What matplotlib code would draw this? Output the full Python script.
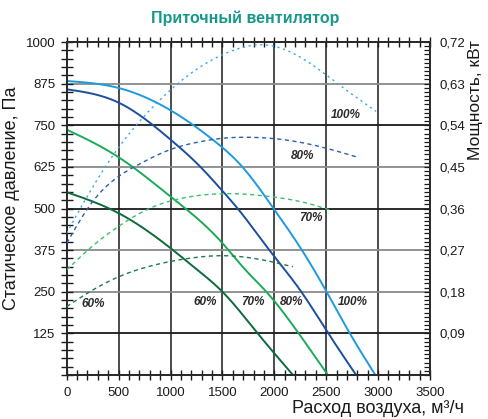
import matplotlib
matplotlib.use("Agg")
import matplotlib.pyplot as plt
import numpy as np
from matplotlib.ticker import MultipleLocator, FixedLocator

plt.rcParams['font.family'] = ['Liberation Sans', 'DejaVu Sans']

# ---- Data: static pressure curves (Pa) vs air flow (m3/h) ----
p100_x = [0, 500, 1000, 1410, 1698, 1993, 2260, 2500, 2724, 2974]
p100_y = [883, 862, 795, 706, 623, 500, 378, 252, 127, 0]

p80_x = [0, 500, 1000, 1282, 1500, 1647, 1960, 2260, 2500, 2788]
p80_y = [858, 818, 707, 627, 553, 500, 372, 250, 135, 0]

p70_x = [0, 500, 1000, 1500, 1715, 1923, 2228, 2516]
p70_y = [737, 654, 536, 396, 318, 250, 128, 0]

p60_x = [0, 500, 1000, 1250, 1500, 1840, 2180]
p60_y = [549, 486, 381, 318, 250, 125, 0]

# ---- Data: power curves (kW) vs air flow ----
w100_x = [0, 144, 416, 849, 1265, 1618, 1891, 2275, 2628, 2981]
w100_y = [0.307, 0.365, 0.465, 0.584, 0.663, 0.703, 0.714, 0.684, 0.627, 0.570]

w80_x = [0, 240, 700, 993, 1298, 1506, 1750, 2115, 2436, 2785]
w80_y = [0.285, 0.372, 0.456, 0.487, 0.505, 0.512, 0.514, 0.508, 0.494, 0.472]

w70_x = [0, 208, 497, 817, 1106, 1500, 1987, 2308, 2532]
w70_y = [0.227, 0.271, 0.321, 0.362, 0.382, 0.392, 0.385, 0.372, 0.357]

w60_x = [0, 208, 497, 849, 1170, 1490, 1859, 2179]
w60_y = [0.148, 0.178, 0.212, 0.238, 0.252, 0.258, 0.250, 0.234]

x_ticks = [0, 500, 1000, 1500, 2000, 2500, 3000, 3500]
y_ticks = [125, 250, 375, 500, 625, 750, 875, 1000]
y2_ticks = [0.09, 0.18, 0.27, 0.36, 0.45, 0.54, 0.63, 0.72]
y2_labels = ['0,09', '0,18', '0,27', '0,36', '0,45', '0,54', '0,63', '0,72']

c100 = '#1e9ae0'
c80 = '#1a4f9e'
c70 = '#1aab5a'
c60 = '#0e6a3a'

def spline(xs, ys, n=300):
    """Natural cubic spline through the read points."""
    x = np.asarray(xs, float); y = np.asarray(ys, float)
    k = len(x); h = np.diff(x)
    A = np.zeros((k, k)); r = np.zeros(k)
    A[0, 0] = A[-1, -1] = 1
    for i in range(1, k - 1):
        A[i, i-1] = h[i-1]; A[i, i] = 2*(h[i-1] + h[i]); A[i, i+1] = h[i]
        r[i] = 3*((y[i+1]-y[i])/h[i] - (y[i]-y[i-1])/h[i-1])
    c = np.linalg.solve(A, r)
    b = (y[1:]-y[:-1])/h - h*(2*c[:-1] + c[1:])/3
    d = (c[1:] - c[:-1])/(3*h)
    xn = np.linspace(x[0], x[-1], n)
    idx = np.clip(np.searchsorted(x, xn) - 1, 0, k - 2)
    t = xn - x[idx]
    return xn, y[idx] + b[idx]*t + c[idx]*t**2 + d[idx]*t**3

fig = plt.figure(figsize=(4.89, 4.19), dpi=100)
ax = fig.add_axes([66.7/489, 44/419, 363.3/489, 333/419])
ax2 = ax.twinx()

ax.set_xlim(0, 3500)
ax.set_ylim(0, 1000)
ax2.set_ylim(0, 0.72)

# grid
for v in x_ticks[1:-1]:
    ax.axvline(v, color='#1a1a1a', lw=1.1, zorder=1)
for v in y_ticks[:-1]:
    col = '#1a1a1a' if v in (125, 500, 750) else '#8a8a8a'
    ax.axhline(v, color=col, lw=1.3, zorder=1)

# pressure curves
for xs, ys, c in [(p100_x, p100_y, c100), (p80_x, p80_y, c80),
                  (p70_x, p70_y, c70), (p60_x, p60_y, c60)]:
    xn, yn = spline(xs, ys)
    ax.plot(xn, yn, color=c, lw=1.4, zorder=3, solid_capstyle='butt')

# power curves
for xs, ys, c, ds in [(w100_x, w100_y, '#3aa8e8', (1.6, 2.6)), (w80_x, w80_y, '#2a5fb0', (3, 2.5)),
                      (w70_x, w70_y, '#3cbf6e', (3, 2.5)), (w60_x, w60_y, '#1e7a48', (3, 2.5))]:
    xn, yn = spline(xs, ys)
    ax2.plot(xn, yn, color=c, lw=1.0, dashes=ds, zorder=3)

lab = dict(fontsize=8.5, fontweight='bold', style='italic', color='#2a2a2a',
           ha='center', va='center', zorder=5)
ax.text(2692, 781, '100%', **lab)
ax.text(2275, 658, '80%', **lab)
ax.text(2356, 471, '70%', **lab)
ax.text(256, 212, '60%', **lab)
ax.text(1337, 220, '60%', **lab)
ax.text(1794, 220, '70%', **lab)
ax.text(2163, 220, '80%', **lab)
ax.text(2756, 220, '100%', **lab)

# ticks
ax.xaxis.set_major_locator(FixedLocator(x_ticks))
ax.xaxis.set_minor_locator(MultipleLocator(100))
ax.yaxis.set_major_locator(FixedLocator(y_ticks))
ax.yaxis.set_minor_locator(MultipleLocator(25))
ax.tick_params(axis='x', which='both', direction='inout', length=7, width=1.0,
               labelsize=9.5, colors='#1a1a1a', pad=5, top=True, labeltop=False)
ax.tick_params(axis='y', which='both', direction='inout', length=8, width=1.0,
               labelsize=9.5, colors='#1a1a1a', pad=4, right=False)
ax.set_xticklabels([str(v) for v in x_ticks])
ax.set_yticklabels([str(v) for v in y_ticks])

ax2.yaxis.set_major_locator(FixedLocator(y2_ticks))
ax2.yaxis.set_minor_locator(MultipleLocator(0.009))
ax2.set_yticklabels(y2_labels)
ax2.tick_params(axis='y', which='both', direction='in', length=4, width=0.9,
                labelsize=9.5, colors='#1a1a1a', pad=7)

for a in (ax, ax2):
    for s in a.spines.values():
        s.set_color('#2a2a2a')
        s.set_linewidth(1.3)

fig.text(12/489, 1 - 198/419, 'Статическое давление, Па', fontsize=13, color='#1a1a1a',
         rotation=90, ha='center', va='center')
fig.text(476/489, 1 - 40/419, 'Мощность, кВт', fontsize=12.5, color='#1a1a1a',
         rotation=90, ha='center', va='top')
fig.text(464/489, 1 - 408/419, 'Расход воздуха, м³/ч', fontsize=13, color='#1a1a1a',
         ha='right', va='center')

fig.text(245/489, 1 - 18/419, 'Приточный вентилятор', fontsize=11.5, fontweight='bold',
         color='#16998a', ha='center', va='center')

fig.savefig('out.png', dpi=100)
